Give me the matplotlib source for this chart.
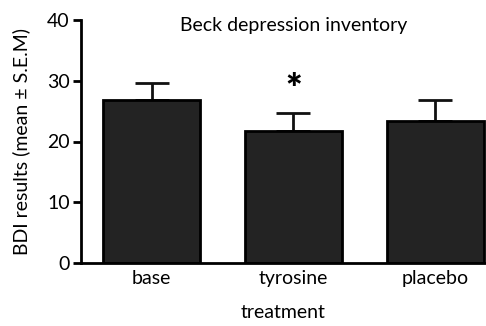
import numpy as np
import matplotlib.pyplot as plt

plt.rcParams['font.family'] = ['Lato', 'DejaVu Sans']

groups = ["base", "tyrosine", "placebo"]
means = [26.9, 21.7, 23.3]
sems = [2.7, 3.0, 3.6]

fig = plt.figure(figsize=(4.86, 3.26), dpi=100)
ax = fig.add_axes([81 / 486, 1 - 263 / 326, (486 - 81) / 486, (263 - 20) / 326])

x = np.arange(len(groups))
ax.bar(x, means, width=0.685, color="#232323", edgecolor="black", linewidth=2, zorder=2)
ax.errorbar(x, means, yerr=[np.zeros(len(sems)), sems], fmt="none", ecolor="#111111",
            elinewidth=2, capsize=12, capthick=2, zorder=1)

ax.set_xlim(-0.5, 2.36)
ax.set_ylim(0, 40)
ax.set_yticks([0, 10, 20, 30, 40])
ax.set_xticks(x)
ax.set_xticklabels(groups)
ax.tick_params(axis="x", length=0, labelsize=14, pad=5)
ax.tick_params(axis="y", length=6, width=2, labelsize=14, pad=2)
for s in ["top", "right"]:
    ax.spines[s].set_visible(False)
for s in ["left", "bottom"]:
    ax.spines[s].set_linewidth(2)

ax.text(1, 40.5, "Beck depression inventory", ha="center", va="top", fontsize=14)
ax.text(1, means[1] + sems[1] + 0.6, "*", ha="center", va="bottom", fontsize=28, fontweight="heavy")
ax.set_xlabel("treatment", fontsize=14, labelpad=12)
ax.set_ylabel("BDI results (mean \u00b1 S.E.M)", fontsize=14, labelpad=12)

fig.savefig("out.png", dpi=100)
